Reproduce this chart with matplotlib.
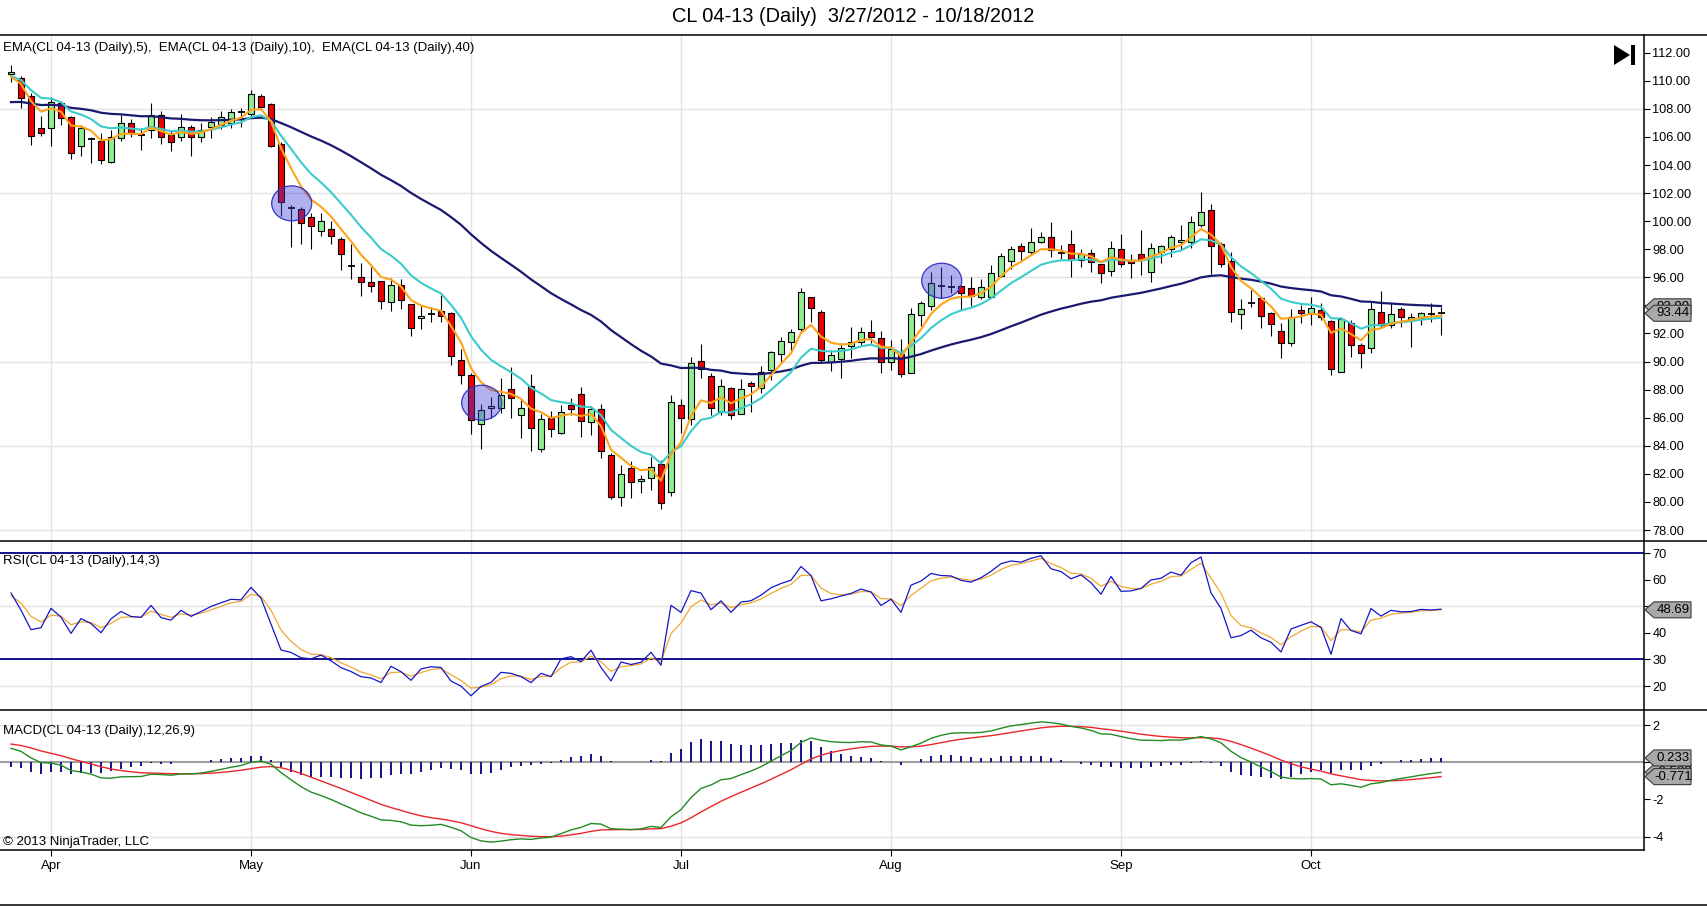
import numpy as np
import matplotlib.pyplot as plt
from matplotlib.patches import Rectangle, Ellipse, Polygon

plt.rcParams['font.family'] = ['Liberation Sans', 'DejaVu Sans']

W, H = 1707, 906

title = 'CL 04-13 (Daily)  3/27/2012 - 10/18/2012'

# daily OHLC, 3/27/2012 .. 10/18/2012
opens = [110.45, 110.17, 108.92, 106.61, 106.61, 108.39, 107.40, 105.35, 105.85, 105.71,
         104.24, 105.90, 106.97, 106.21, 106.49, 107.56, 106.14, 105.97, 106.68, 105.97,
         106.68, 106.85, 106.97, 107.75, 107.60, 108.92, 108.35, 105.50, 100.92, 100.84,
         100.27, 99.32, 99.42, 98.71, 96.83, 96.05, 95.64, 95.73, 94.26, 95.45,
         94.09, 93.07, 93.40, 93.62, 93.48, 90.11, 89.04, 85.55, 86.72, 86.67,
         88.02, 86.19, 88.28, 83.75, 85.95, 84.93, 86.90, 87.69, 85.67, 86.59,
         83.34, 80.33, 82.39, 81.49, 81.68, 82.70, 80.68, 86.90, 85.88, 90.04,
         88.97, 86.43, 88.09, 86.26, 88.45, 88.09, 89.40, 90.54, 91.37, 92.29,
         94.57, 93.55, 89.99, 90.16, 91.11, 91.37, 92.08, 91.65, 89.99, 90.54,
         89.21, 93.31, 93.96, 95.38, 95.33, 95.40, 95.21, 94.62, 94.57, 96.12,
         97.19, 98.25, 97.83, 98.54, 98.89, 97.75, 98.37, 97.23, 97.71, 96.95,
         96.47, 97.99, 97.23, 97.64, 96.35, 97.83, 97.99, 98.49, 98.54, 99.72,
         100.79, 98.35, 97.16, 93.36, 94.19, 94.55, 93.43, 92.17, 91.30, 93.64,
         93.43, 93.67, 92.91, 89.28, 92.76, 91.17, 90.94, 93.55, 92.60, 93.72,
         93.00, 93.07, 93.36, 93.44]
highs = [111.12, 110.34, 109.11, 107.49, 108.82, 108.58, 107.49, 106.85, 105.97, 106.30,
         106.49, 107.56, 107.25, 106.66, 108.44, 107.87, 106.49, 107.63, 106.85, 106.97,
         107.44, 107.87, 107.97, 108.04, 109.34, 109.03, 108.39, 105.66, 101.15, 101.03,
         100.56, 100.56, 100.04, 98.90, 98.37, 97.02, 96.75, 95.76, 95.92, 95.85,
         94.10, 93.95, 93.86, 94.74, 93.50, 90.87, 89.16, 86.97, 87.50, 88.80,
         89.59, 87.26, 89.11, 86.26, 86.50, 86.90, 87.38, 88.21, 86.83, 86.97,
         83.46, 82.63, 82.94, 81.92, 83.18, 82.98, 87.61, 87.31, 90.30, 91.25,
         89.21, 88.76, 88.21, 88.73, 88.64, 89.68, 90.77, 91.72, 92.29, 95.21,
         94.60, 93.70, 90.82, 91.30, 92.48, 92.48, 92.96, 92.20, 91.53, 91.58,
         93.79, 94.34, 96.40, 96.71, 96.16, 95.45, 96.04, 95.85, 96.88, 97.71,
         98.23, 98.47, 99.49, 99.20, 99.91, 98.30, 99.37, 97.99, 97.99, 96.95,
         98.59, 99.06, 97.66, 99.37, 98.47, 98.30, 99.01, 99.73, 100.37, 102.05,
         101.22, 98.54, 97.83, 94.45, 95.10, 94.60, 93.50, 92.72, 93.72, 94.02,
         94.62, 94.19, 92.96, 93.15, 92.96, 91.29, 94.26, 95.02, 94.19, 93.91,
         93.48, 93.55, 94.14, 93.91]
lows = [109.93, 108.04, 105.43, 106.07, 105.35, 106.85, 104.41, 104.64, 104.12, 104.07,
        104.12, 105.71, 105.97, 105.07, 105.95, 105.50, 105.02, 105.73, 104.64, 105.66,
        105.95, 106.57, 106.61, 106.73, 107.40, 108.04, 105.26, 100.34, 98.18, 98.37,
        98.02, 98.97, 98.40, 96.55, 95.90, 94.69, 94.97, 93.74, 93.62, 93.74,
        91.84, 92.31, 92.79, 92.79, 89.75, 88.40, 84.84, 83.75, 85.95, 86.31,
        85.95, 84.53, 83.65, 83.58, 84.65, 84.84, 86.19, 84.60, 84.77, 83.10,
        80.18, 79.71, 80.26, 80.61, 80.85, 79.47, 80.45, 84.90, 85.50, 88.80,
        86.19, 86.19, 85.88, 86.26, 86.43, 87.78, 88.68, 89.87, 90.77, 92.13,
        92.84, 89.90, 89.35, 88.80, 90.23, 91.18, 91.30, 89.21, 89.40, 88.92,
        89.16, 92.53, 93.67, 94.55, 94.86, 93.67, 93.96, 94.43, 94.57, 96.04,
        96.57, 97.23, 97.66, 98.42, 97.42, 97.28, 96.04, 96.76, 96.40, 95.57,
        96.09, 96.71, 95.93, 96.16, 95.69, 96.99, 97.42, 97.95, 98.06, 99.61,
        96.23, 96.76, 92.84, 92.29, 93.91, 92.36, 91.82, 90.23, 91.13, 92.72,
        92.60, 92.96, 89.04, 89.23, 90.30, 89.51, 90.58, 92.36, 92.36, 92.43,
        91.06, 92.60, 92.84, 91.88]
closes = [110.64, 108.75, 106.09, 106.30, 108.51, 107.33, 104.83, 106.61, 105.85, 104.36,
          106.02, 106.97, 106.26, 106.14, 107.56, 105.97, 105.62, 106.73, 105.97, 106.49,
          107.04, 107.44, 107.80, 107.75, 109.04, 108.11, 105.37, 101.39, 100.92, 99.89,
          99.68, 99.98, 98.97, 97.64, 96.83, 95.69, 95.40, 94.33, 95.45, 94.38,
          92.41, 93.24, 93.40, 93.26, 90.37, 89.04, 85.83, 86.55, 86.85, 87.61,
          87.38, 86.67, 85.24, 85.88, 85.17, 86.43, 86.59, 85.79, 86.59, 83.65,
          80.37, 81.99, 81.44, 81.63, 82.46, 79.90, 87.14, 85.95, 89.87, 89.47,
          86.67, 88.26, 86.19, 88.04, 88.28, 89.28, 90.65, 91.46, 92.08, 94.93,
          93.79, 90.11, 90.47, 90.94, 91.37, 92.08, 91.72, 89.99, 90.87, 89.09,
          93.36, 94.15, 95.62, 95.38, 95.33, 94.86, 94.67, 95.33, 96.28, 97.54,
          97.99, 97.90, 98.49, 98.89, 97.95, 97.75, 97.23, 97.66, 97.12, 96.28,
          98.11, 96.95, 96.99, 97.23, 98.06, 98.23, 98.85, 98.66, 99.96, 100.63,
          98.25, 96.92, 93.55, 93.74, 94.19, 93.24, 92.67, 91.30, 93.17, 93.49,
          93.79, 93.19, 89.44, 93.00, 91.17, 90.63, 93.72, 92.60, 93.36, 93.15,
          93.19, 93.43, 93.36, 93.44]

month_labels = ['Apr', 'May', 'Jun', 'Jul', 'Aug', 'Sep', 'Oct']
month_bars = [4, 24, 46, 67, 88, 111, 130]

# indicator values on the first bar (history before 3/27 not shown)
ema_seeds = {5: 110.29, 10: 110.34, 40: 108.48}
macd_fast_seed = 110.10
macd_slow_seed = 109.35
macd_signal_seed = 0.98
rsi_up_seed = 0.60
rsi_down_seed = 0.49
rsi_avg_seed = 54.0

# last-value tags shown on the right axis
tag_ema40 = 93.90
tag_close = 93.44
tag_rsi = 48.69
tag_macd = -0.538
tag_diff = 0.233
tag_signal = -0.771

# highlighted spots
circle_bars = [28.07, 47.07, 93.07]
circle_prices = [101.27, 87.07, 95.76]


def ema(vals, n, seed):
    k = 2.0 / (n + 1)
    out = [seed]
    for v in vals[1:]:
        out.append(k * v + (1 - k) * out[-1])
    return np.array(out)


c = np.array(closes)
x = np.arange(len(c))
ema5 = ema(c, 5, ema_seeds[5])
ema10 = ema(c, 10, ema_seeds[10])
ema40 = ema(c, 40, ema_seeds[40])

macd = ema(c, 12, macd_fast_seed) - ema(c, 26, macd_slow_seed)
signal = [macd_signal_seed]
for m in macd[1:]:
    signal.append(0.2 * m + 0.8 * signal[-1])
signal = np.array(signal)
diff = macd - signal

up, dn = rsi_up_seed, rsi_down_seed
rsi = [100 - 100 / (1 + up / dn)]
for i in range(1, len(c)):
    ch = c[i] - c[i - 1]
    up = (up * 13 + max(ch, 0)) / 14
    dn = (dn * 13 + max(-ch, 0)) / 14
    rsi.append(100 - 100 / (1 + up / dn))
rsi = np.array(rsi)
rsi_avg = [rsi_avg_seed]
for r in rsi[1:]:
    rsi_avg.append(0.5 * r + 0.5 * rsi_avg[-1])
rsi_avg = np.array(rsi_avg)

fig = plt.figure(figsize=(W / 100, H / 100), dpi=100)
XLIM = (-1.1, 163.3)
grid_col = '#e2e2e2'


def panel(top, bottom):
    ax = fig.add_axes([0, 1 - bottom / H, 1644 / W, (bottom - top) / H])
    ax.set_xlim(*XLIM)
    for s in ['top', 'bottom', 'left', 'right']:
        ax.spines[s].set_visible(False)
    ax.yaxis.tick_right()
    ax.tick_params(axis='y', direction='out', length=4, width=0.8, pad=2, labelsize=9.2)
    ax.set_xticks(month_bars)
    ax.tick_params(axis='x', length=0, labelbottom=False)
    for b in month_bars:
        ax.axvline(b, color=grid_col, lw=1, zorder=0)
    return ax


# price panel
ax = panel(35, 541)
ax.set_ylim(77.22, 113.26)
for g in range(78, 110, 6):
    ax.axhline(g, color=grid_col, lw=1, zorder=0)
price_ticks = np.arange(78, 113, 2)
ax.set_yticks(price_ticks)
# the 94.00 label sits under the last-value tags
ax.set_yticklabels(['' if v == 94 else f'{v:.2f}' for v in price_ticks])
for i, (o, h, l, cl) in enumerate(zip(opens, highs, lows, closes)):
    ax.vlines(i, l, h, color='black', lw=0.8, zorder=2)
    if o == cl:
        ax.hlines(o, i - 0.35, i + 0.35, color='black', lw=1.3, zorder=3)
    else:
        ax.add_patch(Rectangle((i - 0.32, min(o, cl)), 0.64, abs(cl - o),
                               fc='#90EE90' if cl > o else '#EE0000',
                               ec='black', lw=0.8, zorder=3))
ax.plot(x, ema40, color='#191970', lw=1.6, zorder=4)
ax.plot(x, ema10, color='#3CCBCB', lw=1.5, zorder=4)
ax.plot(x, ema5, color='#FFA31A', lw=1.5, zorder=4)
for cb, cp in zip(circle_bars, circle_prices):
    ax.add_patch(Ellipse((cb, cp), 4.0, 2.49, fc=(0.24, 0.24, 0.86, 0.4),
                         ec='#3434c4', lw=0.9, zorder=5))

# RSI panel
ax_r = panel(541, 710)
ax_r.set_ylim(10.96, 74.63)
for g in [20, 50]:
    ax_r.axhline(g, color=grid_col, lw=1, zorder=0)
ax_r.axhline(70, color='#000080', lw=1.3, zorder=1)
ax_r.axhline(30, color='#000080', lw=1.3, zorder=1)
ax_r.set_yticks([20, 30, 40, 50, 60, 70])
ax_r.set_yticklabels(['20', '30', '40', '', '60', '70'])
ax_r.plot(x, rsi_avg, color='#F0A830', lw=0.9, zorder=2)
ax_r.plot(x, rsi, color='#1515C8', lw=0.9, zorder=3)

# MACD panel
ax_m = panel(710, 850)
ax_m.set_ylim(-4.715, 2.81)
for g in [2, -4]:
    ax_m.axhline(g, color=grid_col, lw=1, zorder=0)
ax_m.axhline(0, color='#a0a0a0', lw=1.5, zorder=1)
ax_m.set_yticks([-4, -2, 0, 2])
ax_m.set_yticklabels(['-4', '-2', '', '2'])
ax_m.vlines(x, 0, diff, color='#000080', lw=1.3, zorder=2)
ax_m.plot(x, signal, color='#E8262B', lw=1.0, zorder=3)
ax_m.plot(x, macd, color='#228B22', lw=1.0, zorder=3)
ax_m.set_xticks(month_bars)
ax_m.set_xticklabels(month_labels)
ax_m.tick_params(axis='x', length=4, width=0.8, pad=3, labelsize=9.5, labelbottom=True)

# overlay in pixel coordinates for frame, captions and value tags
ov = fig.add_axes([0, 0, 1, 1])
ov.set_xlim(0, W)
ov.set_ylim(H, 0)
ov.axis('off')
ov.set_facecolor('none')
for yy, x1 in [(35, W), (541, W), (710, W), (850, 1644), (905, W)]:
    ov.plot([0, x1], [yy, yy], color='black', lw=1.1)
ov.plot([1644, 1644], [35, 850], color='black', lw=1.1)

ov.text(W / 2, 16.5, title, ha='center', va='center', fontsize=14.4)
ov.text(3, 48, 'EMA(CL 04-13 (Daily),5),  EMA(CL 04-13 (Daily),10),  EMA(CL 04-13 (Daily),40)',
        ha='left', va='center', fontsize=9.5)
ov.text(3, 561, 'RSI(CL 04-13 (Daily),14,3)', ha='left', va='center', fontsize=9.5)
ov.text(3, 731, 'MACD(CL 04-13 (Daily),12,26,9)', ha='left', va='center', fontsize=9.5)
ov.text(3, 842, '\u00a9 2013 NinjaTrader, LLC', ha='left', va='center', fontsize=9.5)

# scroll-to-end button
ov.add_patch(Polygon([(1614, 45), (1614, 65), (1630, 55)], closed=True, fc='black', ec='none'))
ov.add_patch(Rectangle((1631, 45), 4, 20, fc='black', ec='none'))

z = [10]


def value_tag(axis, val, text):
    yd = axis.transData.transform((0, val))[1]
    y = H - yd
    pts = [(1645, y), (1654, y - 8), (1691, y - 8), (1691, y + 8), (1654, y + 8)]
    ov.add_patch(Polygon(pts, closed=True, fc='#a9a9a9', ec='#3a3a3a', lw=0.8, zorder=z[0]))
    ov.text(1673, y, text, ha='center', va='center', fontsize=9.5, zorder=z[0] + 0.5)
    z[0] += 1


value_tag(ax, tag_ema40, f'{tag_ema40:.2f}')
value_tag(ax, tag_close, f'{tag_close:.2f}')
value_tag(ax_r, tag_rsi, f'{tag_rsi:.2f}')
value_tag(ax_m, tag_macd, f'{tag_macd:.3f}')
value_tag(ax_m, tag_diff, f'{tag_diff:.3f}')
value_tag(ax_m, tag_signal, f'{tag_signal:.3f}')

fig.savefig('out.png', dpi=100)
